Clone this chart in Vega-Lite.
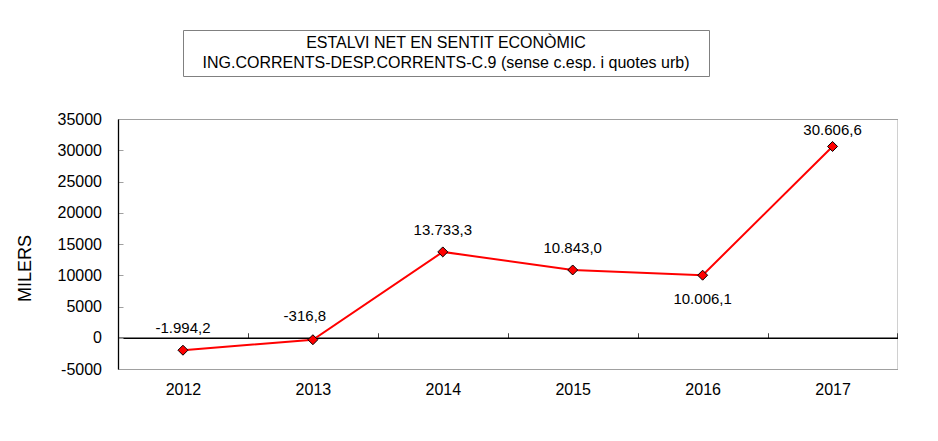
{
  "$schema": "https://vega.github.io/schema/vega-lite/v6.json",
  "padding": {"left": 15, "top": 29, "right": 0, "bottom": 0},
  "background": "white",
  "spacing": 33,
  "config": {
    "font": "Liberation Sans",
    "locale": {"number": {"decimal": ",", "thousands": ".", "grouping": [3], "currency": ["", " €"], "minus": "-"}},
    "axis": {"labelColor": "#000", "titleColor": "#000", "labelFont": "Liberation Sans", "titleFont": "Liberation Sans", "grid": false}
  },
  "vconcat": [
    {
      "spacing": 0,
      "hconcat": [
        {
          "width": 63.5,
          "height": 46,
          "view": {"stroke": null},
          "data": {"values": [{}]},
          "mark": {"type": "text", "text": ""},
          "encoding": {}
        },
        {
          "width": 526,
          "height": 46,
          "view": {"stroke": "#808080", "strokeWidth": 1},
          "data": {"values": [
            {"linia": 1, "text": "ESTALVI NET EN SENTIT ECONÒMIC"},
            {"linia": 2, "text": "ING.CORRENTS-DESP.CORRENTS-C.9 (sense c.esp. i quotes urb)"}
          ]},
          "mark": {"type": "text", "fontSize": 16, "color": "#000", "baseline": "middle"},
          "encoding": {
            "y": {"field": "linia", "type": "ordinal", "axis": null, "scale": {"type": "point", "padding": 0.65}},
            "text": {"field": "text"}
          }
        }
      ]
    },
    {
      "width": 779.5,
      "height": 250,
      "view": {"stroke": "#a0a0a0", "strokeWidth": 1},
      "data": {"values": [
        {"any": 2012, "valor": -1994.2},
        {"any": 2013, "valor": -316.8},
        {"any": 2014, "valor": 13733.3},
        {"any": 2015, "valor": 10843.0},
        {"any": 2016, "valor": 10006.1},
        {"any": 2017, "valor": 30606.6}
      ]},
      "encoding": {
        "x": {
          "field": "any", "type": "ordinal",
          "scale": {"type": "band", "paddingInner": 0, "paddingOuter": 0},
          "axis": {
            "title": null, "orient": "bottom", "offset": -31.25,
            "domainColor": "#000", "domainWidth": 1.3,
            "tickBand": "extent", "tickSize": -5, "tickColor": "#404040", "tickWidth": 1,
            "labelAngle": 0, "labelFontSize": 16, "labelBaseline": "middle", "labelPadding": 57
          }
        },
        "y": {
          "field": "valor", "type": "quantitative",
          "scale": {"domain": [-5000, 35000], "nice": false, "zero": false},
          "axis": {
            "title": "MILERS", "titleFontSize": 18, "titleFontWeight": "normal",
            "titleX": -93, "titleY": 149, "titleBaseline": "middle", "titleAngle": -90,
            "values": [-5000, 0, 5000, 10000, 15000, 20000, 25000, 30000, 35000],
            "format": "d",
            "domainColor": "#000", "domainWidth": 1.3,
            "tickSize": -5, "tickColor": "#a0a0a0",
            "labelFontSize": 16, "labelPadding": 21.5
          }
        }
      },
      "layer": [
        {"mark": {"type": "line", "color": "#ff0000", "strokeWidth": 2}},
        {"mark": {"type": "point", "shape": "diamond", "filled": true, "color": "#ff0000", "stroke": "#000", "strokeWidth": 1, "size": 100, "opacity": 1}},
        {
          "transform": [{"filter": "datum.any != 2013 && datum.any != 2016 && datum.any != 2017"}],
          "mark": {"type": "text", "fontSize": 15, "color": "#000", "dy": -22, "baseline": "middle"},
          "encoding": {"text": {"field": "valor", "type": "quantitative", "format": ",.1f"}}
        },
        {
          "transform": [{"filter": "datum.any == 2013"}],
          "mark": {"type": "text", "fontSize": 15, "color": "#000", "dy": -24, "dx": -8, "baseline": "middle"},
          "encoding": {"text": {"field": "valor", "type": "quantitative", "format": ",.1f"}}
        },
        {
          "transform": [{"filter": "datum.any == 2016"}],
          "mark": {"type": "text", "fontSize": 15, "color": "#000", "dy": 24, "baseline": "middle"},
          "encoding": {"text": {"field": "valor", "type": "quantitative", "format": ",.1f"}}
        },
        {
          "transform": [{"filter": "datum.any == 2017"}],
          "mark": {"type": "text", "fontSize": 15, "color": "#000", "dy": -16, "baseline": "middle"},
          "encoding": {"text": {"field": "valor", "type": "quantitative", "format": ",.1f"}}
        }
      ]
    }
  ]
}
